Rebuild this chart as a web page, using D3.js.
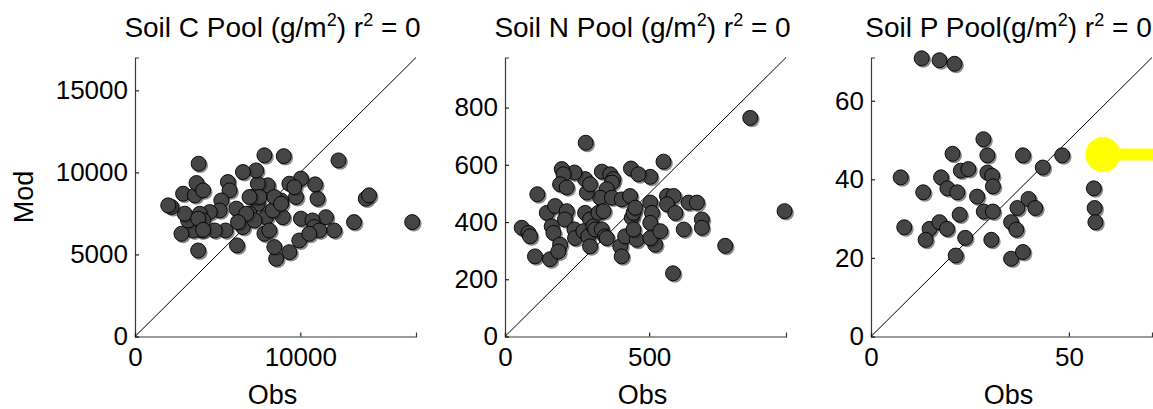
<!DOCTYPE html>
<html>
<head>
<meta charset="utf-8">
<script src="https://cdn.jsdelivr.net/npm/d3@7"></script>
<style>
  html, body { margin: 0; padding: 0; background: #ffffff; }
  svg { display: block; }
  text { font-family: "Liberation Sans", Arial, sans-serif; fill: #000; }
</style>
</head>
<body>
<script>
// ---------------- DATA ----------------
const soilC_obs = [3850,7830,9000,12310,16770,13250,13960,14160,12050,11550,
  11040,10900,10040,9740,9340,10040,10740,10840,11150,9940,
  9340,8540,8430,8940,8630,7930,7830,8130,8030,7430,
  7330,6530,7430,7130,7530,6930,6330,6530,6130,6170,
  5620,5720,5220,5120,5480,4820,4520,3920,4120,4020,
  3520,2810,3210,3010,2210,2010,2910,3620,3720,4120,
  3820,7230,8330,8840,6930,8430,9640,3820,6730,6230,
  4120,10540,8840];
const soilC_mod = [10530,11040,10990,10730,6970,6970,8400,8600,6460,7270,
  8400,9270,9620,8500,9310,7180,7070,6670,6460,5850,
  5140,4740,5450,7270,8290,7270,6260,6460,9210,9310,
  10120,10020,8090,8500,8500,7480,7070,6670,7790,5550,
  9410,8900,8290,7680,6460,6460,7580,7480,7070,6460,
  6460,6260,7070,7480,7890,7990,8700,8600,9350,8900,
  5240,7070,7680,8290,8500,8500,9100,7180,7480,6970,
  6500,6260,8090];

const soilN_obs = [280,851,970,550,504,437,463,336,365,376,
  371,353,330,278,284,295,241,197,203,191,
  214,112,145,174,214,208,162,168,58,81,
  87,104,156,191,185,241,243,278,295,272,
  289,295,307,313,324,336,347,353,342,371,
  400,405,417,405,434,440,446,452,457,446,
  504,510,504,521,504,539,562,585,562,591,
  620,637,666,683,683,764,583];
const soilN_mod = [677,764,438,611,558,587,567,576,567,550,
  538,515,485,550,503,532,573,585,567,532,
  521,497,432,456,438,409,385,362,380,362,
  350,280,270,321,297,374,344,432,409,368,
  350,315,385,374,432,374,350,344,438,485,
  315,280,350,479,491,415,432,450,338,374,
  468,432,397,321,344,368,491,491,462,432,
  374,468,468,409,380,317,221];

const soilP_obs = [12.8,17.3,21.1,28.4,20.6,29.4,38.4,48.3,43.4,22.7,
  24.6,29.4,30.6,30.8,7.5,17.7,19.3,21.8,13.2,26.8,
  28.5,30.8,22.4,37.0,39.8,41.5,35.4,36.7,56.3,56.5,
  56.7,8.4,14.8,17.3,19.2,13.8,23.8,30.4,21.4,35.4,
  38.4];
const soilP_mod = [70.8,70.3,69.4,50.2,46.5,46.1,46.1,46.1,43.0,42.2,
  42.6,41.7,40.9,38.2,40.5,40.5,37.7,36.7,36.7,35.6,
  31.8,31.8,31.0,32.7,35.0,32.7,29.1,27.2,37.7,32.7,
  29.1,27.8,27.4,29.1,27.4,24.6,25.1,24.6,20.6,19.8,
  21.5];

const titlePre = ["Soil C Pool (g/m", "Soil N Pool (g/m", "Soil P Pool(g/m"];
const titleR2 = ["0", "0", "0"];
const axisMax = [17000, 975, 71];
const xTickVals = [[0, 10000], [0, 500], [0, 50]];
const yTickVals = [[0, 5000, 10000, 15000], [0, 200, 400, 600, 800], [0, 20, 40, 60]];
const xLabel = "Obs";
const yLabel = "Mod";
// yellow highlight annotation on the P panel (data units)
const annotP = {obs: 58.6, mod: 46.3};

const panels = [
  {obs: soilC_obs, mod: soilC_mod},
  {obs: soilN_obs, mod: soilN_mod},
  {obs: soilP_obs, mod: soilP_mod}
];

// ---------------- LAYOUT ----------------
const W = 1153, H = 409;
const lefts = [135, 505, 871];
const pw = 281, plotTop = 57.5, plotBottom = 336.5;
const tickFont = 26, labelFont = 27, titleFont = 28;

const svg = d3.select("body").append("svg").attr("width", W).attr("height", H);
svg.append("rect").attr("width", W).attr("height", H).attr("fill", "#fff");

panels.forEach((p, i) => {
  const R = axisMax[i];
  const x = d3.scaleLinear().domain([0, R]).range([lefts[i], lefts[i] + pw]);
  const y = d3.scaleLinear().domain([0, R]).range([plotBottom, plotTop]);
  const g = svg.append("g");

  // axes
  const ya = g.append("g").attr("transform", `translate(${lefts[i]},0)`)
    .call(d3.axisLeft(y).tickValues(yTickVals[i]).tickFormat(d3.format("d"))
      .tickSize(-4).tickSizeOuter(-4).tickPadding(7));
  const xa = g.append("g").attr("transform", `translate(0,${plotBottom})`)
    .call(d3.axisBottom(x).tickValues(xTickVals[i]).tickFormat(d3.format("d"))
      .tickSize(-4).tickSizeOuter(-4).tickPadding(11));
  [ya, xa].forEach(a => {
    a.selectAll("path.domain").attr("stroke", "#3a3a3a").attr("stroke-width", 1.2);
    a.selectAll(".tick line").attr("stroke", "#222").attr("stroke-width", 1.2);
    a.selectAll("text").attr("font-size", tickFont)
      .attr("font-family", '"Liberation Sans", Arial, sans-serif').attr("fill", "#000");
  });

  // 1:1 line
  g.append("line")
    .attr("x1", x(0)).attr("y1", y(0)).attr("x2", x(R)).attr("y2", y(R))
    .attr("stroke", "#000").attr("stroke-width", 1);

  // markers
  const pts = p.obs.map((o, k) => ({o, m: p.mod[k]}));
  const mk = g.append("g").selectAll("g").data(pts).join("g");
  mk.append("circle")
    .attr("cx", d => x(d.o) + 1.7).attr("cy", d => y(d.m) + 1.7).attr("r", 7.7)
    .attr("fill", "#2a2a2a").attr("opacity", 0.55);
  mk.append("circle")
    .attr("cx", d => x(d.o)).attr("cy", d => y(d.m)).attr("r", 7.5)
    .attr("fill", "#454545").attr("stroke", "#000").attr("stroke-width", 0.9);

  // title
  const cx = lefts[i] + pw / 2 - 3;
  const t = g.append("text").attr("x", cx).attr("y", 37).attr("text-anchor", "middle")
    .attr("font-size", titleFont);
  t.append("tspan").text(titlePre[i]);
  t.append("tspan").attr("font-size", 18).attr("dy", -11).text("2");
  t.append("tspan").attr("dy", 11).text(") r");
  t.append("tspan").attr("font-size", 18).attr("dy", -11).text("2");
  t.append("tspan").attr("dy", 11).text(" = " + titleR2[i]);

  // x label
  g.append("text").attr("x", lefts[i] + pw / 2 - 3).attr("y", 404)
    .attr("text-anchor", "middle").attr("font-size", labelFont).text(xLabel);

  if (i === 0) {
    g.append("text").attr("transform", `translate(33,${(plotTop + plotBottom) / 2}) rotate(-90)`)
      .attr("text-anchor", "middle").attr("font-size", labelFont).text(yLabel);
  }

  if (i === 2) {
    const ax = x(annotP.obs), ay = y(annotP.mod);
    g.append("line").attr("x1", ax).attr("y1", ay).attr("x2", W).attr("y2", ay)
      .attr("stroke", "#ffff00").attr("stroke-width", 12);
    g.append("circle").attr("cx", ax).attr("cy", ay).attr("r", 17.5).attr("fill", "#ffff00");
  }
});
</script>
</body>
</html>
